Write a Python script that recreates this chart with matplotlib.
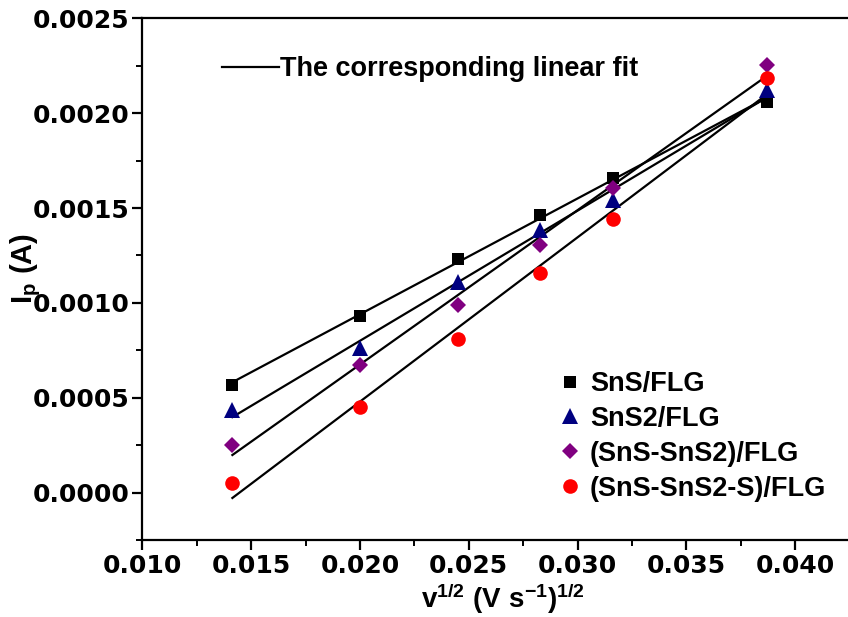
import numpy as np
import matplotlib
matplotlib.use("Agg")
import matplotlib.pyplot as plt
from matplotlib.lines import Line2D

# ---- data ----
x_vals = [0.01414, 0.02000, 0.02449, 0.02828, 0.03162, 0.03873]
sns_flg = [0.000566, 0.000933, 0.001233, 0.001461, 0.001658, 0.002061]
sns2_flg = [0.000435, 0.000763, 0.001108, 0.001382, 0.001544, 0.002123]
sns_sns2_flg = [0.000249, 0.000674, 0.000991, 0.001307, 0.001605, 0.002254]
sns_sns2_s_flg = [0.0000526, 0.000453, 0.000812, 0.001158, 0.001442, 0.002184]

labels = ["SnS/FLG", "SnS2/FLG", "(SnS-SnS2)/FLG", "(SnS-SnS2-S)/FLG"]
fit_label = "The corresponding linear fit"
x_ticks = [0.010, 0.015, 0.020, 0.025, 0.030, 0.035, 0.040]
y_ticks = [0.0000, 0.0005, 0.0010, 0.0015, 0.0020, 0.0025]

series = [sns_flg, sns2_flg, sns_sns2_flg, sns_sns2_s_flg]
markers = ["s", "^", "D", "o"]
colors = ["#000000", "#000080", "#800080", "#FF0000"]
msizes = [9, 11, 8.5, 10.5]

plt.rcParams['mathtext.fontset'] = 'custom'
plt.rcParams['mathtext.rm'] = 'Liberation Sans:bold'
plt.rcParams['mathtext.bf'] = 'Liberation Sans:bold'
plt.rcParams['mathtext.it'] = 'Liberation Sans:bold'

W, H = 848, 617
fig = plt.figure(figsize=(W / 100, H / 100), dpi=100)
left, right, top, bottom = 142.3, 848, 18.3, 540
ax = fig.add_axes([left / W, 1 - bottom / H, (right - left) / W, (bottom - top) / H])

x = np.array(x_vals)
handles = []
for ys, m, c, ms, lab in zip(series, markers, colors, msizes, labels):
    y = np.array(ys)
    k, b = np.polyfit(x, y, 1)
    ax.plot([x[0], x[-1]], [k * x[0] + b, k * x[-1] + b], color="black", lw=1.6, zorder=2)
    h, = ax.plot(x, y, linestyle="none", marker=m, color=c, markersize=ms, zorder=3,
                 markeredgewidth=0, label=lab)
    handles.append(h)

ax.set_xlim(0.010, 0.010 + (right - left) / 21760)
ax.set_ylim(-0.00025, 0.0025)
ax.set_xticks(x_ticks)
ax.set_xticklabels([f"{v:.3f}" for v in x_ticks])
ax.set_yticks(y_ticks)
ax.set_yticklabels([f"{v:.4f}" for v in y_ticks])
ax.set_xticks(np.arange(0.0125, 0.0425, 0.005), minor=True)
ax.set_yticks(np.arange(-0.00025, 0.0025, 0.0005), minor=True)

for s in ["left", "bottom", "top"]:
    ax.spines[s].set_linewidth(1.6)
ax.spines["right"].set_visible(False)
ax.tick_params(which="major", direction="out", length=7, width=1.6, top=False, right=False)
ax.tick_params(which="minor", direction="out", length=4, width=1.4, top=False, right=False)
for lab in ax.get_xticklabels() + ax.get_yticklabels():
    lab.set_fontfamily("DejaVu Sans")
    lab.set_fontweight("bold")
    lab.set_fontsize(18)
ax.tick_params(axis="x", pad=3)
ax.tick_params(axis="y", pad=2)

fig.text(503 / W, 1 / H, r"$\mathbf{v^{1/2}\ (V\ s^{-1})^{1/2}}$", fontsize=20,
         ha="center", va="bottom")
fig.text(26 / W, 1 - 268 / H, r"$\mathbf{I_p\ (A)}$", fontsize=21,
         ha="center", va="center", rotation=90)

leg1 = ax.legend(handles=handles, loc="upper left", bbox_to_anchor=(556 / W, 1 - 371 / H),
                 bbox_transform=fig.transFigure, frameon=False, handlelength=1.0,
                 handletextpad=0.25, labelspacing=0.33, borderpad=0, borderaxespad=0,
                 prop={"family": "Liberation Sans", "weight": "bold", "size": 19.5})
ax.add_artist(leg1)

fit_handle = Line2D([], [], color="black", lw=1.6)
ax.legend(handles=[fit_handle], labels=[fit_label], loc="center left",
          bbox_to_anchor=(222 / W, 1 - 69 / H), bbox_transform=fig.transFigure,
          frameon=False, handlelength=2.1, handletextpad=0.05, borderpad=0, borderaxespad=0,
          prop={"family": "Liberation Sans", "weight": "bold", "size": 19.5})

fig.savefig("out.png", dpi=100)
